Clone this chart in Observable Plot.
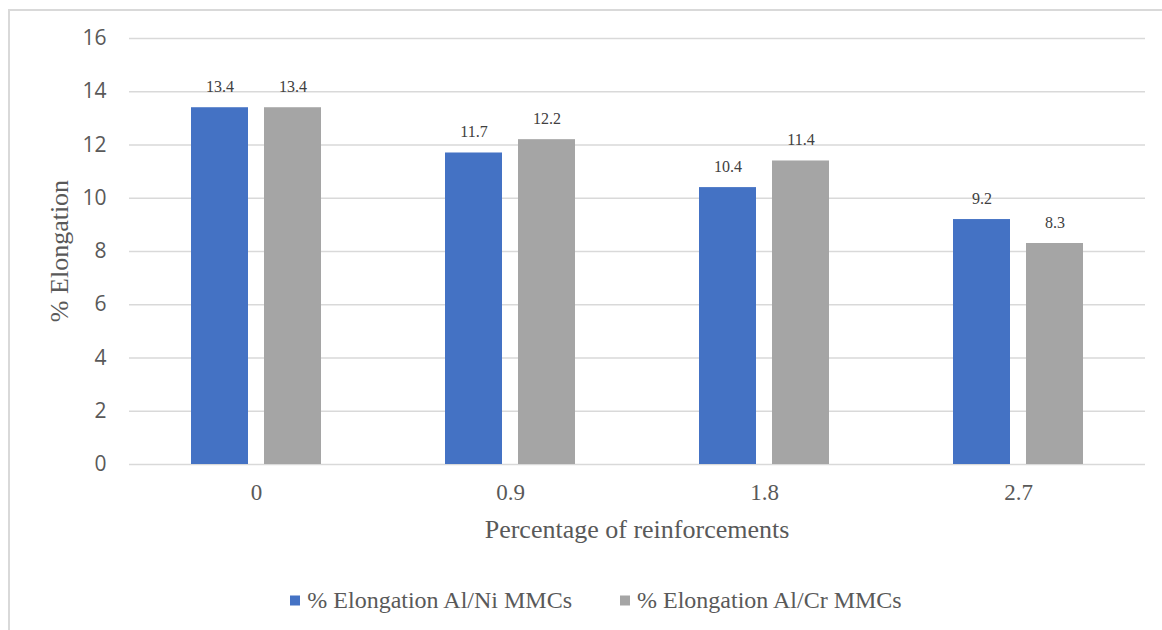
<!DOCTYPE html>
<html>
<head>
<meta charset="utf-8">
<script src="https://cdn.jsdelivr.net/npm/d3@7"></script>
<script src="https://cdn.jsdelivr.net/npm/@observablehq/plot@0.6"></script>
<style>
  html, body { margin: 0; padding: 0; background: #fff; }
  #wrap { position: relative; width: 1162px; height: 630px; overflow: hidden; }
  #frame { position: absolute; left: 8px; top: 9px; width: 1300px; height: 800px;
           border-top: 2px solid #d9d9d9; border-left: 2px solid #d9d9d9; box-sizing: border-box; }
  #chart { position: absolute; left: 0; top: 0; }
  .serif { font-family: "Liberation Serif", "Times New Roman", serif; color: #595959; white-space: nowrap; }
  #ytitle { position: absolute; left: 60px; top: 251px; font-size: 26px;
            transform: translate(-50%, -50%) rotate(-90deg); }
  #xtitle { position: absolute; left: 637px; top: 530px; font-size: 26px; transform: translate(-50%, -50%); }
  #legend { position: absolute; left: 0; width: 1192px; top: 600px; transform: translateY(-50%);
            display: flex; justify-content: center; gap: 48px; font-size: 24px; }
  #legend .item { display: flex; align-items: center; gap: 7px; }
  #legend .sw { width: 10px; height: 10px; display: inline-block; }
</style>
</head>
<body>
<div id="wrap">
  <div id="frame"></div>
  <div id="chart"></div>
  <div id="ytitle" class="serif">% Elongation</div>
  <div id="xtitle" class="serif">Percentage of reinforcements</div>
  <div id="legend" class="serif"></div>
</div>
<script>
// Reinforcement levels (x categories)
const categories = ["0", "0.9", "1.8", "2.7"];
// Series names and values
const seriesNames = ["% Elongation Al/Ni MMCs", "% Elongation Al/Cr MMCs"];
const alNiValues = [13.4, 11.7, 10.4, 9.2];
const alCrValues = [13.4, 12.2, 11.4, 8.3];
const seriesColors = ["#4472C4", "#A5A5A5"];
// Y axis tick values
const yTicks = [0, 2, 4, 6, 8, 10, 12, 14, 16];

const rows = [];
categories.forEach((c, i) => {
  rows.push({cat: c, series: seriesNames[0], value: alNiValues[i]});
  rows.push({cat: c, series: seriesNames[1], value: alCrValues[i]});
});

const serif = "Liberation Serif, Times New Roman, serif";

const chart = Plot.plot({
  width: 1162,
  height: 560,
  marginLeft: 129,
  marginRight: 17,
  marginTop: 38,
  marginBottom: 96,
  style: {background: "transparent", overflow: "visible"},
  fx: {domain: categories, padding: 0, label: null},
  x: {domain: seriesNames, paddingInner: 0.219, paddingOuter: 0.849, axis: null},
  y: {domain: [0, 16], axis: null},
  color: {domain: seriesNames, range: seriesColors},
  marks: [
    Plot.ruleY(yTicks, {y: d => d, stroke: "#d9d9d9", strokeWidth: 1.5}),
    Plot.barY(rows, {fx: "cat", x: "series", y: "value", fill: "series"}),
    Plot.text(rows, {
      fx: "cat", x: "series", y: "value",
      text: d => d.value.toFixed(1),
      dy: -21, fontSize: 16, fontFamily: serif, fill: "#404040"
    }),
    Plot.axisY(yTicks, {
      tickSize: 0, tickPadding: 23, label: null,
      fontSize: 21, fontFamily: "Open Sans, sans-serif", color: "#595959"
    }),
    Plot.axisFx({
      anchor: "bottom", tickSize: 0, tickPadding: 19, label: null,
      fontSize: 23, fontFamily: serif, color: "#595959"
    })
  ]
});
document.getElementById("chart").appendChild(chart);

// Legend below the plot
const legend = d3.select("#legend");
seriesNames.forEach((name, i) => {
  const item = legend.append("div").attr("class", "item");
  item.append("span").attr("class", "sw").style("background", seriesColors[i]);
  item.append("span").text(name);
});
</script>
</body>
</html>
